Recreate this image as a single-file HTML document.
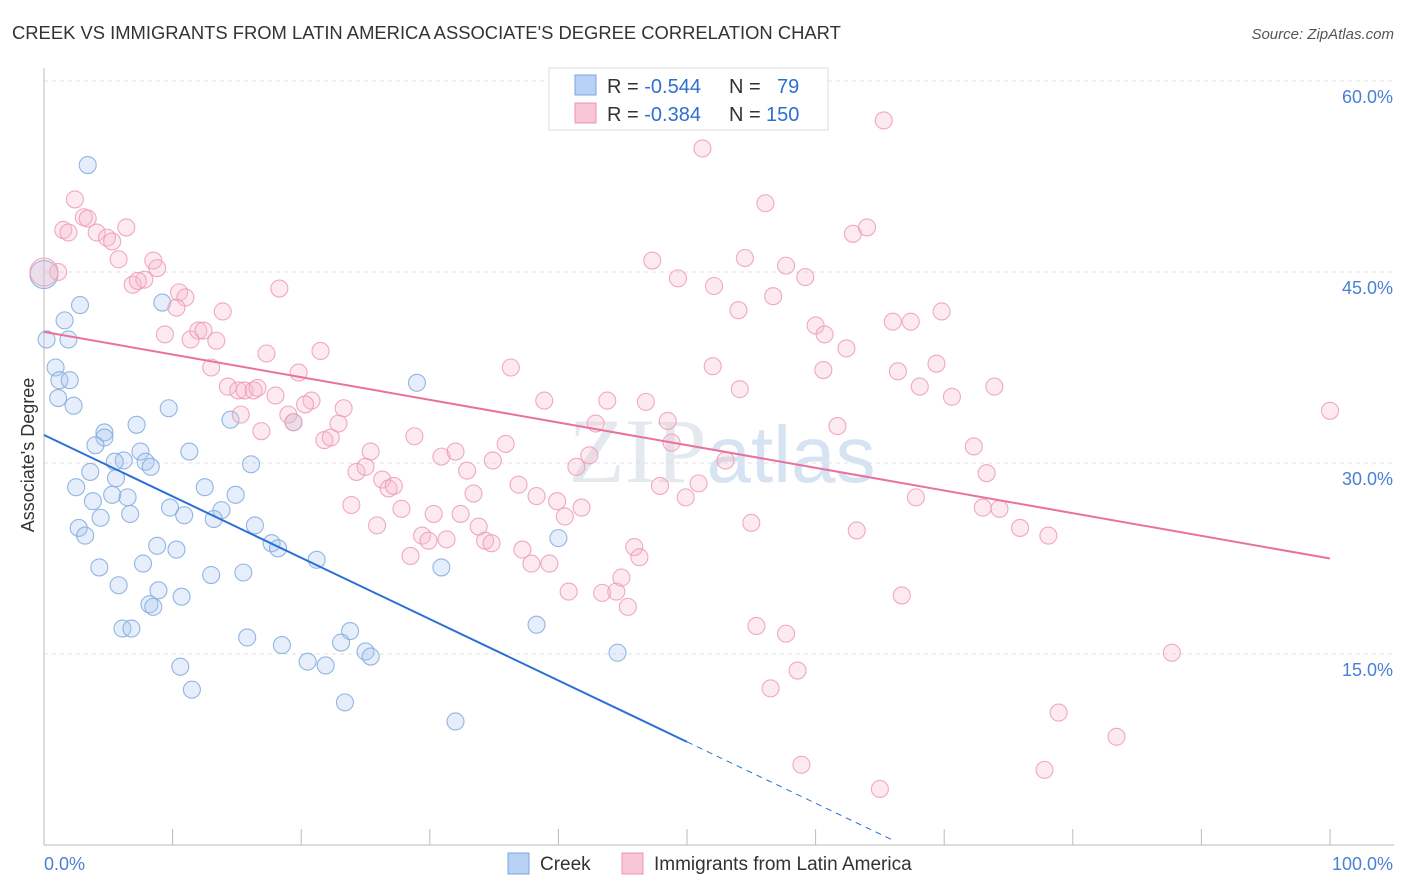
<!DOCTYPE html>
<html><head><meta charset="utf-8"><style>
body{margin:0;background:#fff;font-family:"Liberation Sans",sans-serif;}
svg{display:block}
</style></head><body>
<svg id="c" width="1406" height="892" xmlns="http://www.w3.org/2000/svg">
<text x="12" y="39" font-size="18.4" fill="#333">CREEK VS IMMIGRANTS FROM LATIN AMERICA ASSOCIATE'S DEGREE CORRELATION CHART</text>
<text x="1394" y="39" font-size="15" fill="#555" font-style="italic" text-anchor="end">Source: ZipAtlas.com</text>
<text x="722" y="482" font-size="92" fill="#e4e9f0" text-anchor="middle" font-family="Liberation Serif,serif">ZIP<tspan fill="#d6e3f3" font-family="Liberation Sans,sans-serif" font-size="80">atlas</tspan></text>
<g id="grid"></g><g id="axes"></g><g id="pts"></g><g id="lines"></g>
<text transform="translate(34,455) rotate(-90)" font-size="18" fill="#333" text-anchor="middle">Associate's Degree</text>
<g>
<rect x="549" y="68" width="279" height="62" fill="#fff" stroke="#ddd"/>
<rect x="575" y="75" width="21" height="20" fill="#b7d2f4" stroke="#7aa6dc"/>
<text x="607" y="93" font-size="20" fill="#333">R = <tspan fill="#2e6fd1">-0.544</tspan><tspan x="729">N =</tspan><tspan x="777" fill="#2e6fd1">79</tspan></text>
<rect x="575" y="103" width="21" height="20" fill="#f9c6d6" stroke="#ec93b1"/>
<text x="607" y="121" font-size="20" fill="#333">R = <tspan fill="#2e6fd1">-0.384</tspan><tspan x="729">N =</tspan><tspan x="766" fill="#2e6fd1">150</tspan></text>
</g>
<g><rect x="508" y="853" width="21" height="21" fill="#b7d2f4" stroke="#7aa6dc"/><text x="540" y="870" font-size="19" fill="#333">Creek</text></g>
<g><rect x="622" y="853" width="21" height="21" fill="#f9c6d6" stroke="#ec93b1"/><text x="654" y="870" font-size="19" fill="#333">Immigrants from Latin America</text></g>
</svg>
<script>
const blueX=[3.4,0,2.8,1.6,1.9,0.2,0.9,1.2,2.0,1.1,2.3,9.2,9.7,29.0,7.2,4.7,4.7,4.0,7.5,11.3,14.5,19.4,6.2,7.9,8.3,5.5,3.6,5.6,2.5,3.8,5.3,6.5,9.8,10.9,12.5,14.9,13.8,13.2,6.7,4.4,2.7,3.2,16.1,16.4,17.7,18.2,21.2,8.8,10.3,7.7,4.3,5.8,8.9,10.7,8.2,8.5,6.1,6.8,15.5,13.0,30.9,40.0,38.3,15.8,18.5,23.8,23.1,25.0,25.4,20.5,21.9,10.6,11.5,23.4,32.0,44.6];
const blueY=[53.4,44.8,42.4,41.2,39.7,39.7,37.5,36.5,36.5,35.1,34.5,42.6,34.3,36.3,33.0,32.4,32.0,31.4,30.9,30.9,33.4,33.2,30.2,30.1,29.7,30.1,29.3,28.8,28.1,27.0,27.5,27.3,26.5,25.9,28.1,27.5,26.3,25.6,26.0,25.7,24.9,24.3,29.9,25.1,23.7,23.3,22.4,23.5,23.2,22.1,21.8,20.4,20.0,19.5,18.9,18.7,17.0,17.0,21.4,21.2,21.8,24.1,17.3,16.3,15.7,16.8,15.9,15.2,14.8,14.4,14.1,14.0,12.2,11.2,9.7,15.1];
const pinkX=[2.4,3.1,3.4,1.5,1.9,6.4,4.1,4.9,5.3,1.1,5.8,8.5,8.8,6.9,7.8,7.3,10.5,11.0,10.3,13.9,18.3,9.4,11.4,12.0,12.4,13.4,17.3,21.5,13.0,14.3,15.1,15.6,16.3,16.6,18.0,19.8,20.8,20.3,23.3,19.0,19.4,15.3,16.9,21.8,22.3,22.9,25.4,28.8,30.9,32.0,35.9,36.3,38.9,43.8,46.8,48.5,48.8,53.0,41.4,42.4,42.9,24.3,25.0,26.3,26.8,27.2,27.8,30.3,25.9,23.9,29.4,28.5,29.9,31.3,32.4,32.9,33.4,34.9,33.8,34.3,34.8,36.9,38.3,39.9,40.5,41.8,37.2,37.9,39.3,40.8,43.4,44.5,44.9,45.4,45.9,46.3,47.9,49.9,50.9,52.0,54.1,51.2,47.3,49.3,52.1,54.0,54.5,56.1,56.7,57.7,59.2,60.0,60.7,60.6,61.7,62.4,62.9,64.0,65.3,66.0,67.4,66.4,68.1,69.8,69.4,70.6,73.9,72.3,73.3,63.2,67.8,73.0,74.3,75.9,78.1,55.0,55.4,57.7,56.5,58.6,66.7,100,87.7,78.9,83.4,77.8,58.9,65.0,0];
const pinkY=[50.7,49.3,49.2,48.3,48.1,48.5,48.1,47.7,47.4,45.0,46.0,45.9,45.3,44.0,44.4,44.3,43.4,43.0,42.2,41.9,43.7,40.1,39.7,40.4,40.4,39.6,38.6,38.8,37.5,36.0,35.7,35.7,35.7,35.9,35.3,37.1,34.9,34.6,34.3,33.8,33.2,33.8,32.5,31.8,32.0,33.1,30.9,32.1,30.5,30.9,31.5,37.5,34.9,34.9,34.8,33.3,31.6,30.2,29.7,30.6,33.1,29.3,29.7,28.7,28.0,28.2,26.4,26.0,25.1,26.7,24.3,22.7,23.9,24.0,26.0,29.4,27.6,30.2,25.0,23.9,23.7,28.3,27.4,27.0,25.8,26.5,23.2,22.1,22.1,19.9,19.8,19.9,21.0,18.7,23.4,22.6,28.2,27.3,28.4,37.6,35.8,54.7,45.9,44.5,43.9,42.0,46.1,50.4,43.1,45.5,44.6,40.8,40.1,37.3,32.9,39.0,48.0,48.5,56.9,41.1,41.1,37.2,36.0,41.9,37.8,35.2,36.0,31.3,29.2,24.7,27.3,26.5,26.4,24.9,24.3,25.3,17.2,16.6,12.3,13.7,19.6,34.1,15.1,10.4,8.5,5.9,6.3,4.4,45.0];
const yTicks=[15,30,45,60];
const yTickLabels=["15.0%","30.0%","45.0%","60.0%"];
const xTicks=[0,10,20,30,40,50,60,70,80,90,100];
const blueFit=[32.2,-0.482];
const pinkFit=[40.3,-0.178];
const blueSolidEnd=50, blueDashEnd=66.2;

const NS="http://www.w3.org/2000/svg";
const X0=44,X1=1330,Y0=845,PXY=191/15;
const sx=v=>X0+(X1-X0)*v/100, sy=v=>Y0-v*PXY;
function mk(t,a,p){const e=document.createElementNS(NS,t);for(const k in a)e.setAttribute(k,a[k]);p.appendChild(e);return e;}
const gGrid=document.getElementById('grid'),gAxes=document.getElementById('axes'),gPts=document.getElementById('pts'),gLines=document.getElementById('lines');
yTicks.forEach((v,i)=>{
 const l=mk('line',{x1:X0,x2:1394,y1:sy(v),y2:sy(v),stroke:'#e0e0e0','stroke-dasharray':'4,4'},gGrid);
 
 
 const t=mk('text',{x:1393,y:sy(v)+22,'font-size':18,fill:'#4a80d4','text-anchor':'end'},gAxes);
 t.textContent=yTickLabels[i];
 
 
});
const ya=mk('line',{x1:X0,x2:X0,y1:68,y2:Y0,stroke:'#bbb'},gAxes);


const xa=mk('line',{x1:X0,x2:1394,y1:Y0,y2:Y0,stroke:'#bbb'},gAxes);


xTicks.forEach(v=>{const t=mk('line',{x1:sx(v),x2:sx(v),y1:Y0,y2:Y0-16,stroke:'#bbb'},gAxes);
 
 });
const xl0=mk('text',{x:44,y:870,'font-size':18,fill:'#4a80d4'},gAxes);xl0.textContent='0.0%';


const xl1=mk('text',{x:1393,y:870,'font-size':18,fill:'#4a80d4','text-anchor':'end'},gAxes);xl1.textContent='100.0%';


function dots(xs,ys,fill,stroke,name){xs.forEach((x,i)=>{
 const big=(x===0&&ys[i]>44&&ys[i]<46);
 const c=mk('circle',{cx:sx(x),cy:sy(ys[i]),r:big?14:8.5,fill:fill,'fill-opacity':0.3,stroke:stroke,'stroke-opacity':0.85,'stroke-width':1.1},gPts);
 
 });}
dots(blueX,blueY,'#a9c8ee','#80aade','creek-point');
dots(pinkX,pinkY,'#f5b8cb','#ef9ab7','immigrant-point');
const bf=x=>blueFit[0]+blueFit[1]*x, pf=x=>pinkFit[0]+pinkFit[1]*x;
const b1=mk('line',{x1:sx(0),y1:sy(bf(0)),x2:sx(blueSolidEnd),y2:sy(bf(blueSolidEnd)),stroke:'#2a6fd6','stroke-width':2},gLines);


const b2=mk('line',{x1:sx(blueSolidEnd),y1:sy(bf(blueSolidEnd)),x2:sx(blueDashEnd),y2:sy(bf(blueDashEnd)),stroke:'#2a6fd6','stroke-width':1,'stroke-dasharray':'6,5'},gLines);


const p1=mk('line',{x1:sx(0),y1:sy(pf(0)),x2:sx(100),y2:sy(pf(100)),stroke:'#e8729b','stroke-width':2},gLines);


</script>
</body></html>
